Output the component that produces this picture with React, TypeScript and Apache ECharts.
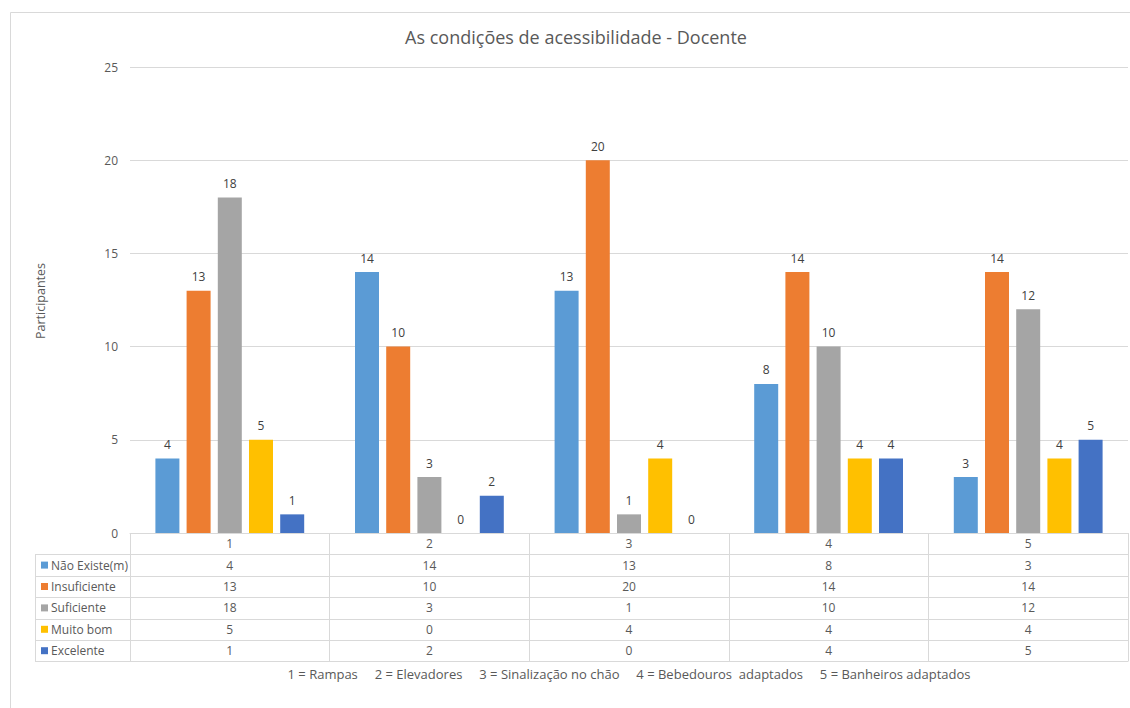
import React, { useEffect, useRef } from "react";
import * as echarts from "echarts";

const categories = ["1", "2", "3", "4", "5"];
const seriesNames = ["Não Existe(m)", "Insuficiente", "Suficiente", "Muito bom", "Excelente"];
const naoExiste = [4, 14, 13, 8, 3];
const insuficiente = [13, 10, 20, 14, 14];
const suficiente = [18, 3, 1, 10, 12];
const muitoBom = [5, 0, 4, 4, 4];
const excelente = [1, 2, 0, 4, 5];
const seriesData = [naoExiste, insuficiente, suficiente, muitoBom, excelente];
const colors = ["#5B9BD5", "#ED7D31", "#A5A5A5", "#FFC000", "#4472C4"];
const footerItems = ["1 = Rampas", "2 = Elevadores", "3 = Sinalização no chão", "4 = Bebedouros  adaptados", "5 = Banheiros adaptados"];
const titleText = "As condições de acessibilidade - Docente";
const yName = "Participantes";
const yTicks = { min: 0, max: 25, interval: 5 };

const FONT = "'Open Sans', 'Noto Sans', sans-serif";

export default function App() {
  const ref = useRef<HTMLDivElement>(null);
  useEffect(() => {
    if (!ref.current) return;
    const chart = echarts.init(ref.current, null, { renderer: "svg" });
    const W = 1130, H = 708;
    const gl = 130, gr = 1128, gTop = 67, gBottom = 533;
    const rowH = 21.4;
    const tableTop = gBottom + rowH; // first data row top
    const colW = (gr - gl) / categories.length;
    const grid = "#D9D9D9";
    const textColor = "#595959";

    const graphics: any[] = [];
    graphics.push({
      type: "rect",
      shape: { x: 10.5, y: 12.5, width: W, height: H },
      style: { fill: "none", stroke: grid, lineWidth: 1 },
      silent: true,
    });
    graphics.push({
      type: "text",
      x: 576,
      y: 37,
      style: { text: titleText, fill: textColor, font: `18px ${FONT}`, textAlign: "center", textVerticalAlign: "middle" },
    });
    graphics.push({
      type: "text",
      x: 40,
      y: 301,
      rotation: Math.PI / 2,
      style: { text: yName, fill: textColor, font: `12.5px ${FONT}`, textAlign: "center", textVerticalAlign: "middle" },
    });
    // table horizontal lines
    for (let r = 0; r <= seriesNames.length; r++) {
      const y = Math.round(tableTop + r * rowH) + 0.5;
      graphics.push({
        type: "line",
        shape: { x1: 35, y1: y, x2: gr, y2: y },
        style: { stroke: grid, lineWidth: 1 },
        silent: true,
      });
    }
    const tableBottom = Math.round(tableTop + seriesNames.length * rowH) + 0.5;
    graphics.push({
      type: "line",
      shape: { x1: 35.5, y1: Math.round(tableTop) + 0.5, x2: 35.5, y2: tableBottom },
      style: { stroke: grid, lineWidth: 1 },
      silent: true,
    });
    seriesNames.forEach((name, r) => {
      const cy = tableTop + (r + 0.5) * rowH;
      graphics.push({
        type: "rect",
        shape: { x: 41, y: cy - 3.5, width: 7, height: 7 },
        style: { fill: colors[r] },
      });
      graphics.push({
        type: "text",
        x: 51,
        y: cy,
        style: { text: name, fill: textColor, font: `12px ${FONT}`, textAlign: "left", textVerticalAlign: "middle" },
      });
      seriesData[r].forEach((v, c) => {
        graphics.push({
          type: "text",
          x: gl + colW * (c + 0.5),
          y: cy,
          style: { text: String(v), fill: textColor, font: `12px ${FONT}`, textAlign: "center", textVerticalAlign: "middle" },
        });
      });
    });
    graphics.push({
      type: "text",
      x: 629,
      y: 674,
      style: {
        text: footerItems.join("\u00a0\u00a0\u00a0\u00a0\u00a0"),
        fill: textColor,
        font: `13px ${FONT}`,
        textAlign: "center",
        textVerticalAlign: "middle",
      },
    });

    chart.setOption({
      animation: false,
      backgroundColor: "#ffffff",
      textStyle: { fontFamily: FONT },
      grid: { left: gl, right: W - gr, top: gTop, bottom: H - gBottom, containLabel: false },
      xAxis: {
        type: "category",
        data: categories,
        axisLine: { show: true, lineStyle: { color: grid } },
        axisTick: {
          show: true,
          alignWithLabel: false,
          length: tableBottom - gBottom,
          lineStyle: { color: grid },
        },
        axisLabel: { color: textColor, fontSize: 12, margin: 4 },
        splitLine: { show: false },
      },
      yAxis: {
        type: "value",
        min: yTicks.min,
        max: yTicks.max,
        interval: yTicks.interval,
        axisLine: { show: false },
        axisTick: { show: false },
        axisLabel: { color: textColor, fontSize: 12, margin: 12 },
        splitLine: { lineStyle: { color: grid } },
      },
      series: seriesNames.map((name, i) => ({
        name,
        type: "bar",
        data: seriesData[i],
        barWidth: 24,
        barGap: "30%",
        itemStyle: { color: colors[i] },
        label: { show: true, position: "top", distance: 8, color: "#404040", fontSize: 12, fontFamily: FONT },
      })),
      graphic: graphics,
    });
    return () => chart.dispose();
  }, []);
  return <div ref={ref} style={{ position: "fixed", left: 0, top: 0, width: 1130, height: 708 }} />;
}
